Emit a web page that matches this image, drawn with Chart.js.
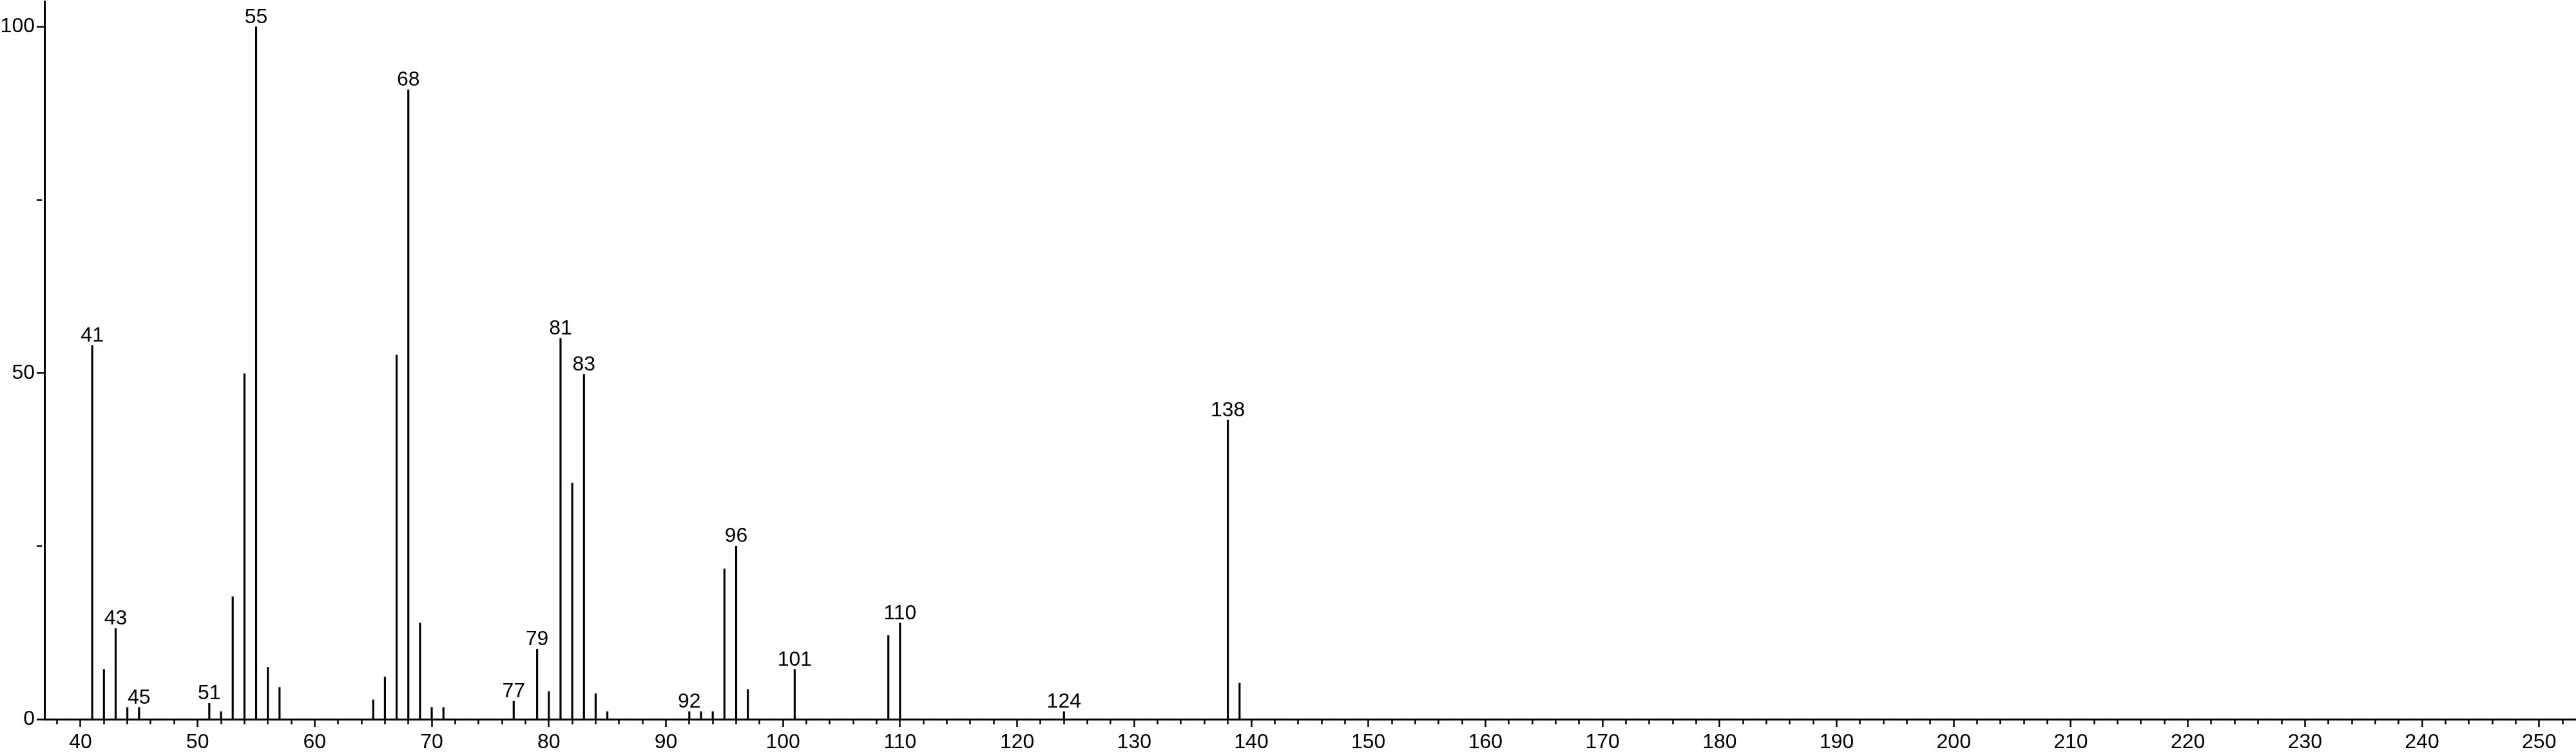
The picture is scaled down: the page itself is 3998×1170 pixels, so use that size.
<!DOCTYPE html>
<html>
<head>
<meta charset="utf-8">
<script src="https://cdn.jsdelivr.net/npm/chart.js@4.4.1/dist/chart.umd.min.js"></script>
<style>
  html, body { margin: 0; padding: 0; background: #fff; }
  #wrap { width: 3998px; height: 1170px; }
</style>
</head>
<body>
<div id="wrap"><canvas id="c" width="3998" height="1170"></canvas></div>
<script>
// m/z values of the peaks
const mzValues = [41, 42, 43, 44, 45, 51, 52, 53, 54, 55, 56, 57,
  65, 66, 67, 68, 69, 70, 71, 77, 79, 80, 81, 82, 83, 84, 85,
  92, 93, 94, 95, 96, 97, 101, 109, 110, 124, 138, 139];
// relative intensities (%)
const intensities = [54.0, 7.2, 13.1, 1.7, 1.7, 2.3, 1.1, 17.7, 49.9, 100, 7.5, 4.6,
  2.8, 6.1, 52.6, 90.9, 13.9, 1.7, 1.7, 2.6, 10.1, 4.0, 55.0, 34.1, 49.8, 3.7, 1.1,
  1.1, 1.1, 1.1, 21.7, 25.0, 4.3, 7.2, 12.1, 13.9, 1.1, 43.2, 5.2];
// peaks carrying a text label
const labeledMz = [41, 43, 45, 51, 55, 68, 77, 79, 81, 83, 92, 96, 101, 110, 124, 138];
// axis tick labels
const xTickLabels = [40, 50, 60, 70, 80, 90, 100, 110, 120, 130, 140, 150, 160, 170, 180, 190, 200, 210, 220, 230, 240, 250];
const yTickLabels = [0, 50, 100];
const yTicksAll = [0, 25, 50, 75, 100];
const xRange = [36.92, 253.15];
const yMax = 103.68;

const FONT = '"Liberation Sans", Arial, Helvetica, sans-serif';

const xTicksAll = [];
for (let v = Math.ceil(xRange[0] / 2) * 2; v <= xRange[1]; v += 2) xTicksAll.push(v);

const peakLabels = {
  id: 'peakLabels',
  afterDatasetsDraw(chart) {
    const ctx = chart.ctx;
    const meta = chart.getDatasetMeta(0);
    ctx.save();
    ctx.font = '32px ' + FONT;
    ctx.fillStyle = '#000';
    ctx.textAlign = 'center';
    ctx.textBaseline = 'alphabetic';
    labeledMz.forEach(mz => {
      const i = mzValues.indexOf(mz);
      const el = meta.data[i];
      ctx.fillText(String(mz), el.x, el.y - 6);
    });
    ctx.restore();
  }
};

new Chart(document.getElementById('c'), {
  type: 'bar',
  data: {
    datasets: [{
      data: mzValues.map((m, i) => ({ x: m, y: intensities[i] })),
      backgroundColor: '#000',
      borderWidth: 0,
      barThickness: 2.5,
      grouped: false
    }]
  },
  options: {
    responsive: false,
    devicePixelRatio: 1,
    animation: false,
    layout: { padding: { top: 2, left: 0, right: 0, bottom: 0 } },
    plugins: { legend: { display: false }, tooltip: { enabled: false } },
    scales: {
      x: {
        type: 'linear',
        bounds: 'data',
        offset: false,
        min: xRange[0],
        max: xRange[1],
        afterBuildTicks: s => { s.ticks = xTicksAll.map(v => ({ value: v })); },
        afterFit: s => { s.height = 54; s.paddingLeft = 0; s.paddingRight = 0; },
        border: { display: true, color: '#000', width: 3 },
        grid: {
          offset: false,
          drawOnChartArea: false,
          drawTicks: true,
          tickLength: 12,
          tickWidth: 2.5,
          tickColor: '#000',
          tickBorderDash: c => (c.tick && xTickLabels.includes(c.tick.value)) ? [] : [6, 100]
        },
        ticks: {
          autoSkip: false,
          maxRotation: 0,
          minRotation: 0,
          padding: 5,
          color: '#000',
          font: { family: FONT, size: 32 },
          callback: v => xTickLabels.includes(v) ? String(v) : ''
        }
      },
      y: {
        type: 'linear',
        bounds: 'data',
        min: 0,
        max: yMax,
        afterBuildTicks: s => { s.ticks = yTicksAll.map(v => ({ value: v })); },
        afterFit: s => { s.width = 69; s.paddingTop = 0; s.paddingBottom = 0; },
        border: { display: true, color: '#000', width: 3 },
        grid: {
          drawOnChartArea: false,
          drawTicks: true,
          tickLength: 12,
          tickWidth: 2.5,
          tickColor: '#000',
          tickBorderDash: c => (c.tick && yTickLabels.includes(c.tick.value)) ? [] : [8, 100]
        },
        ticks: {
          padding: 3,
          color: '#000',
          font: { family: FONT, size: 32 },
          callback: v => yTickLabels.includes(v) ? String(v) : ''
        }
      }
    }
  },
  plugins: [peakLabels]
});
</script>
</body>
</html>
